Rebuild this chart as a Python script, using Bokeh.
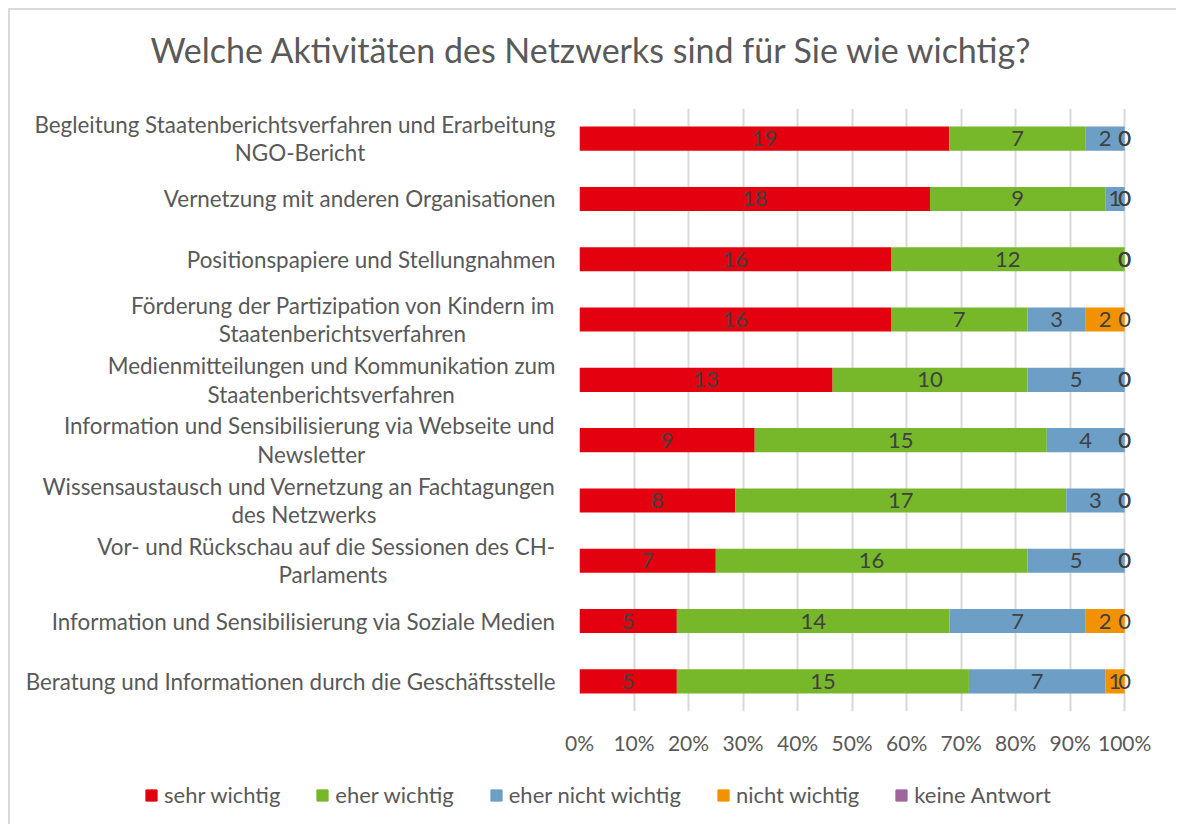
from bokeh.plotting import figure
from bokeh.models import (ColumnDataSource, FactorRange, Legend, LegendItem,
                          NumeralTickFormatter, FixedTicker, Title)
from bokeh.core.properties import value
from bokeh.embed import file_html
from bokeh.resources import INLINE

categories = [
    "Begleitung Staatenberichtsverfahren und Erarbeitung\nNGO-Bericht",
    "Vernetzung mit anderen Organisationen",
    "Positionspapiere und Stellungnahmen",
    "Förderung der Partizipation von Kindern im\nStaatenberichtsverfahren",
    "Medienmitteilungen und Kommunikation zum\nStaatenberichtsverfahren",
    "Information und Sensibilisierung via Webseite und\nNewsletter",
    "Wissensaustausch und Vernetzung an Fachtagungen\ndes Netzwerks",
    "Vor- und Rückschau auf die Sessionen des CH-\nParlaments",
    "Information und Sensibilisierung via Soziale Medien",
    "Beratung und Informationen durch die Geschäftsstelle",
]
series_names = ["sehr wichtig", "eher wichtig", "eher nicht wichtig",
                "nicht wichtig", "keine Antwort"]
sehr_wichtig = [19, 18, 16, 16, 13, 9, 8, 7, 5, 5]
eher_wichtig = [7, 9, 12, 7, 10, 15, 17, 16, 14, 15]
eher_nicht_wichtig = [2, 1, 0, 3, 5, 4, 3, 5, 7, 7]
nicht_wichtig = [0, 0, 0, 2, 0, 0, 0, 0, 2, 1]
keine_antwort = [0, 0, 0, 0, 0, 0, 0, 0, 0, 0]
colors = ["#E3000F", "#76B82A", "#6C9EC6", "#F39200", "#A0669B"]
tick_values = [0.0, 0.1, 0.2, 0.3, 0.4, 0.5, 0.6, 0.7, 0.8, 0.9, 1.0]


def _approx_em(s):
    w = 0.0
    for ch in s:
        if ch in "iljtfr -,.'I":
            w += 0.27
        elif ch in "mwMW":
            w += 0.8
        elif ch.isupper():
            w += 0.65
        else:
            w += 0.52
    return w


def centered(label):
    # the axis right-aligns each line; pad shorter lines so they sit centred
    lines = label.split("\n")
    if len(lines) == 1:
        return label
    widest = max(_approx_em(l) for l in lines)
    return "\n".join(l + "\u2002" * round((widest - _approx_em(l)) / 2 / 0.5) for l in lines)


factors = [centered(c) for c in categories]

series = [sehr_wichtig, eher_wichtig, eher_nicht_wichtig, nicht_wichtig, keine_antwort]
keys = ["s0", "s1", "s2", "s3", "s4"]
totals = [sum(col) for col in zip(*series)]

data = {"cat": factors}
for k, s in zip(keys, series):
    data[k] = [v / t for v, t in zip(s, totals)]
source = ColumnDataSource(data)

FONT = "Lato"
TXT = "#595959"
W = 1176
FRAME_BG = ("linear-gradient(#d9d9d9,#d9d9d9) 8px 8px / 100% 2px no-repeat, "
            "linear-gradient(#d9d9d9,#d9d9d9) 8px 8px / 2px 100% no-repeat")

p = figure(width=W, height=766, output_backend="svg", toolbar_location=None,
           title=None,
           y_range=FactorRange(*factors[::-1], range_padding=0, factor_padding=0),
           x_range=(0, 1.04),
           min_border_left=579, min_border_right=30,
           min_border_top=108, min_border_bottom=55)
p.border_fill_color = None
p.background_fill_color = None
p.styles = {"background": FRAME_BG}

renderers = p.hbar_stack(keys, y="cat", height=0.4, source=source,
                         color=colors, line_color=None)

# data labels
lx, ly, lt = [], [], []
for i, c in enumerate(factors):
    left = 0.0
    for s in series:
        w = s[i] / totals[i]
        lx.append(left + w / 2)
        ly.append(c)
        lt.append(str(s[i]))
        left += w
p.text(x=lx, y=ly, text=lt, text_align="center", text_baseline="middle",
       text_font=value(FONT), text_font_size="22px", text_color="#404040")

# title (a thin spacer title keeps the real title higher above the frame)
p.add_layout(Title(text=" ", text_font_size="1px", standoff=36), "above")
p.add_layout(Title(text="Welche Aktivitäten des Netzwerks sind für Sie wie wichtig?",
                   align="left", offset=-429, standoff=0,
                   text_font=FONT, text_font_size="34px", text_font_style="normal",
                   text_color=TXT), "above")

# axes
p.xaxis.ticker = FixedTicker(ticks=tick_values)
p.xaxis.formatter = NumeralTickFormatter(format="0%")
for ax in (p.xaxis[0], p.yaxis[0]):
    ax.axis_line_color = None
    ax.major_tick_line_color = None
    ax.minor_tick_line_color = None
    ax.major_label_text_font = FONT
    ax.major_label_text_color = TXT
p.xaxis.major_label_text_font_size = "21px"
p.yaxis.major_label_text_font_size = "22.4px"
p.yaxis.major_label_text_line_height = 1.05
p.xaxis.major_label_standoff = 12
p.yaxis.major_label_standoff = 18

p.xgrid.grid_line_color = "#D9D9D9"
p.xgrid.grid_line_width = 2
p.xgrid.ticker = FixedTicker(ticks=tick_values)
p.ygrid.grid_line_color = None
p.outline_line_color = None

# legend strip: separate root so its frame spans the full width
pl = figure(width=W, height=58, output_backend="svg", toolbar_location=None,
            x_range=(0, 1), y_range=(0, 1), x_axis_location=None, y_axis_location=None,
            min_border_left=0, min_border_right=0, min_border_top=0, min_border_bottom=0)
pl.grid.visible = False
pl.outline_line_color = None
pl.border_fill_color = None
pl.background_fill_color = None
pl.styles = {"background": "linear-gradient(#d9d9d9,#d9d9d9) 8px 0 / 2px 100% no-repeat"}
# legend swatches only (kept outside the visible range)
legend_renderers = [pl.hbar(y=[-5], left=[0], right=[0], height=0.5, color=c) for c in colors]
legend = Legend(items=[LegendItem(label=n, renderers=[r]) for n, r in zip(series_names, legend_renderers)],
                orientation="horizontal", location=(144, 16),
                glyph_width=14, glyph_height=14, label_standoff=6, spacing=35,
                padding=0, margin=0, border_line_color=None, background_fill_alpha=0,
                label_text_font=FONT, label_text_font_size="22px", label_text_color=TXT,
                label_height=22)
pl.add_layout(legend)

open("out.html", "w").write(file_html([p, pl], INLINE))
